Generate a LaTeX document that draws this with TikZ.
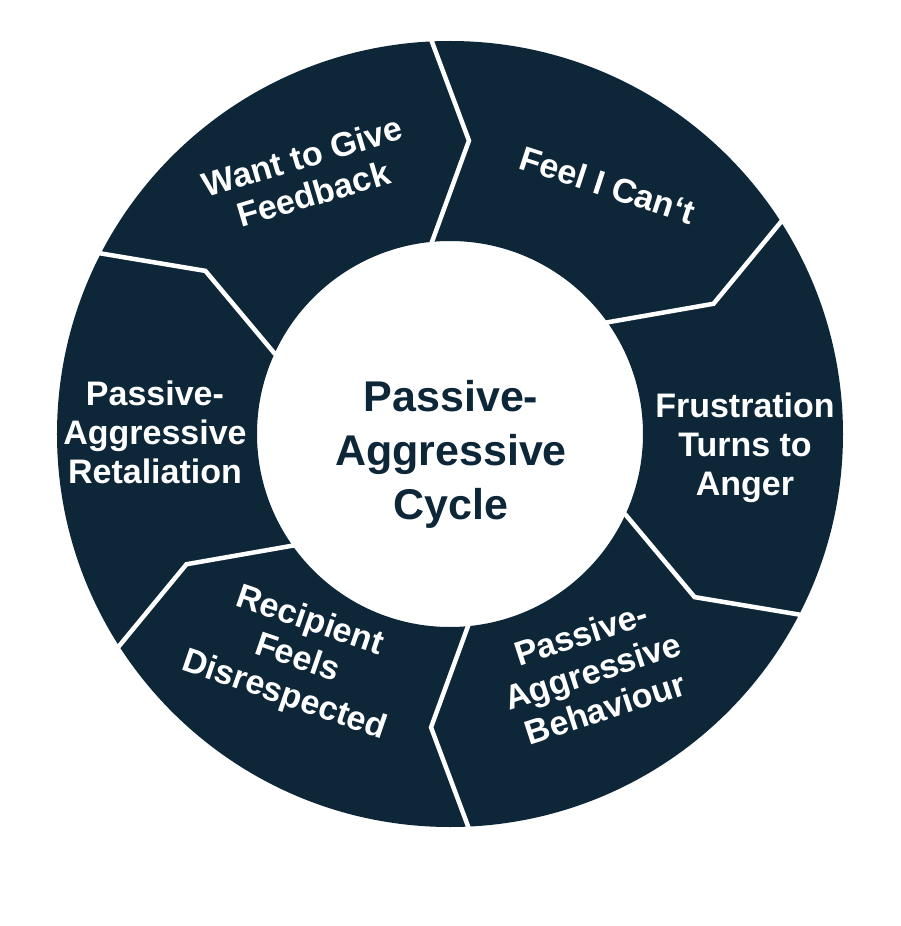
\documentclass[tikz,border=0pt]{standalone}
\usepackage{fontspec}
\setmainfont{Liberation Sans}
\usetikzlibrary{positioning}
\definecolor{cyclenavy}{HTML}{0D2739}
\tikzset{
  ringlabel/.style={text=white, font=\bfseries\fontsize{34}{39}\selectfont, align=center, inner sep=0pt},
  hublabel/.style={text=cyclenavy, font=\bfseries\fontsize{43}{54}\selectfont, align=center, inner sep=0pt},
  gapline/.style={draw=white, line width=4.5pt, line join=miter}
}

\begin{document}
\begin{tikzpicture}[x=1pt, y=1pt]
  \useasboundingbox[fill=white] (-450,-492) rectangle (450,434);

  % ring
  \fill[cyclenavy, even odd rule] (0,0) circle (393) (0,0) circle (193);

  % chevron gaps between the six steps
  \foreach \a in {93.5,33.5,-26.5,-86.5,-146.5,-206.5} {
    \draw[gapline] (\a-0.85:400) -- (\a-0.85:393) -- (\a-7.2:294) -- (\a+1.85:193) -- (\a+1.85:186);
  }

  % steps
  \node[ringlabel, rotate=16.5] (want) at (-142,259) {Want to Give\\Feedback};
  \node[ringlabel, rotate=-18] (feel) at (158,249) {Feel I Can‘t};
  \node[ringlabel] (frust) at (295,-14) {Frustration\\Turns to\\Anger};
  \node[ringlabel, rotate=18] (behav) at (143,-237) {Passive-\\Aggressive\\Behaviour};
  \node[ringlabel, rotate=-19] (recip) at (-153,-225) {Recipient\\Feels\\Disrespected};
  \node[ringlabel] (retal) at (-295,2) {Passive-\\Aggressive\\Retaliation};

  % hub
  \node[hublabel] (hub) at (1,-20) {Passive-\\Aggressive\\Cycle};
\end{tikzpicture}
\end{document}
